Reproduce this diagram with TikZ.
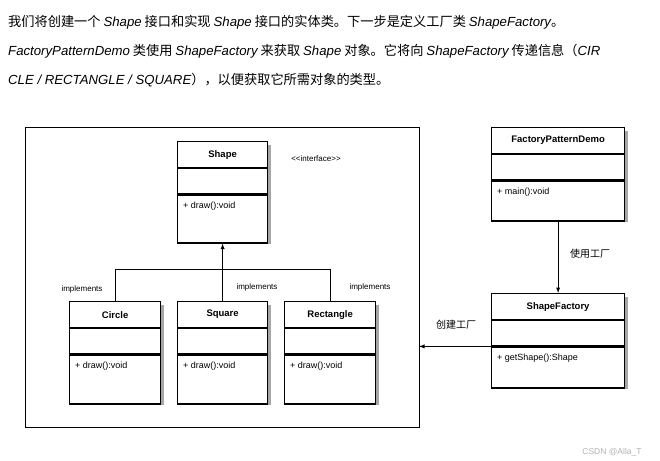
\documentclass[tikz,border=0pt]{standalone}
\usepackage{fontspec}
\setmainfont{Liberation Sans}
\newfontfamily\cjk{Noto Sans CJK SC}
\newfontfamily\lat{Liberation Sans}
\newcommand{\li}[1]{{\lat\itshape #1}}
\usetikzlibrary{positioning}
\tikzset{
  part/.style={draw, line width=1.2pt, fill=white, minimum height=#1, inner sep=0pt},
  head/.style={part=26pt, font=\fontsize{9.5}{11}\bfseries\selectfont},
  methtext/.style={anchor=north west, inner sep=0pt, font=\fontsize{9}{11}\selectfont},
  lbl/.style={font=\fontsize{8}{9}\selectfont, inner sep=1pt},
  para/.style={anchor=west, inner sep=0pt, font=\cjk\fontsize{13.2}{15}\selectfont},
}
% class box: name, left x, top y, width, title, method, total height
\newcommand{\classbox}[7]{%
  \fill[black!35] (#2+4,#3+4) rectangle ++(#4,-#7);
  \node[head, minimum width=#4, anchor=north west] (#1-h) at (#2,#3) {#5};
  \node[part=25pt, minimum width=#4, below=0pt of #1-h] (#1-a) {};
  \node[part=#7-51pt, minimum width=#4, below=0pt of #1-a] (#1-m) {};
  \node[methtext] (#1-t) at ([shift={(6pt,-7pt)}]#1-m.north west) {#6};
}
\begin{document}
\begin{tikzpicture}[x=1pt,y=-1pt]
  \useasboundingbox (0,0) rectangle (660,460);
  % intro text
  \node[para] (t1) at (8,22) {我们将创建一个 \li{Shape} 接口和实现 \li{Shape} 接口的实体类。下一步是定义工厂类 \li{ShapeFactory}。};
  \node[para] (t2) at (8,51) {\li{FactoryPatternDemo} 类使用 \li{ShapeFactory} 来获取 \li{Shape} 对象。它将向 \li{ShapeFactory} 传递信息（\li{CIR}};
  \node[para] (t3) at (8,80) {\li{CLE / RECTANGLE / SQUARE}），以便获取它所需对象的类型。};

  % frame
  \draw[line width=1pt] (25,127) rectangle (419,427);
  \coordinate (frameR) at (419,340);

  \classbox{shape}{177}{141}{90pt}{Shape}{+ draw():void}{99pt}
  \classbox{circle}{69}{301}{91pt}{Circle}{+ draw():void}{100pt}
  \classbox{square}{177}{301}{90pt}{Square}{+ draw():void}{100pt}
  \classbox{rect}{284}{301}{91pt}{Rectangle}{+ draw():void}{100pt}
  \classbox{demo}{491}{127}{133pt}{FactoryPatternDemo}{+ main():void}{91pt}
  \classbox{fact}{491}{293}{133pt}{ShapeFactory}{+ getShape():Shape}{92pt}

  \node[lbl] (iface) at (316,159) {<{}<interface>{}>};

  % implements
  \draw[line width=.5pt] (circle-h.north) |- (rect-h.north |- 0,269) -- (rect-h.north);
  \draw[line width=.9pt, -latex] (square-h.north) -- (shape-m.south);
  \node[lbl] (imp1) at (82,289) {implements};
  \node[lbl] (imp2) at (257,287) {implements};
  \node[lbl] (imp3) at (370,287) {implements};

  % factory links
  \draw[line width=.9pt, -latex] (demo-m.south) -- (fact-h.north);
  \node[lbl, font=\cjk\fontsize{10}{11}\selectfont] (use) at (590,254) {使用工厂};
  \draw[line width=.9pt, -latex] (fact-a.south west) -- (frameR |- fact-a.south west);
  \node[lbl, font=\cjk\fontsize{10}{11}\selectfont] (make) at (456,325) {创建工厂};

  \node[lbl, text=gray!60, font=\fontsize{8.5}{9}\selectfont] (mark) at (612,452) {CSDN @Alla\_T};
\end{tikzpicture}
\end{document}
